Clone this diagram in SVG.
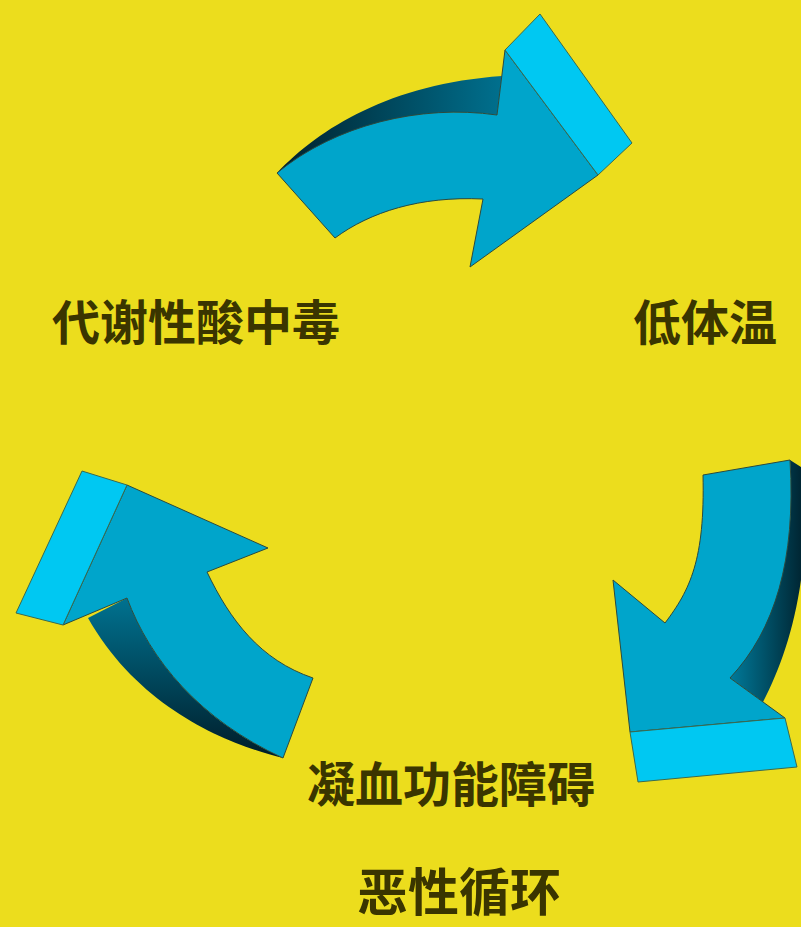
<svg xmlns="http://www.w3.org/2000/svg" width="801" height="927" viewBox="0 0 801 927">
<defs>
<style>
.bg{fill:#ECDD1D}
.face{fill:#00A5CB;stroke:#2a4a40;stroke-width:1}
.cap{fill:#00C8F2;stroke:#3a6a50;stroke-width:1}
.lbl{font-family:"Noto Sans CJK SC","Noto Sans CJK TC",sans-serif;font-size:48px;fill:#3A3500;font-weight:bold}
</style>
<linearGradient id="shTop" x1="0" y1="0" x2="1" y2="0">
<stop offset="0" stop-color="#00202c"/><stop offset="1" stop-color="#00708e"/>
</linearGradient>
<linearGradient id="shRight" x1="0" y1="0" x2="1" y2="0">
<stop offset="0" stop-color="#007a9a"/><stop offset="1" stop-color="#00202c"/>
</linearGradient>
<linearGradient id="shLeft" x1="0" y1="0" x2="0" y2="1">
<stop offset="0" stop-color="#007290"/><stop offset="1" stop-color="#001c28"/>
</linearGradient>
</defs>
<rect class="bg" x="0" y="0" width="801" height="927"/>
<g id="connectors">
<g id="arrow-top">
<path fill="url(#shTop)" d="M277,173 C320,128 390,84 502,76 L497,115 C420,104 340,125 284,172 Z"/>
<path class="face" d="M277,173 C335,125 420,104 497,115 L505,50 L598,175 L470,267 L483,199 C420,196 370,212 335,238 Z"/>
<path class="cap" d="M505,50 L540,14 L632,143 L598,175 Z"/>
</g>
<g id="arrow-right">
<path fill="url(#shRight)" d="M790,460 L806,470 C810,580 790,650 763,702 L730,678 C775,620 796,560 790,460 Z"/>
<path class="face" d="M703,475 L790,460 C796,560 775,630 730,678 L785,718 L630,732 L613,580 L665,623 C690,590 705,560 703,475 Z"/>
<path class="cap" d="M630,732 L785,718 L797,767 L638,782 Z"/>
</g>
<g id="arrow-left">
<path fill="url(#shLeft)" d="M88,618 L127,598 C150,660 200,720 283,758 C230,745 140,710 88,618 Z"/>
<path class="face" d="M127,485 L268,548 L207,572 C230,620 260,660 313,678 L283,758 C200,720 150,660 127,598 L63,625 Z"/>
<path class="cap" d="M82,471 L127,485 L63,625 L16,613 Z"/>
</g>
</g>
<g id="node-acidosis"><text class="lbl" x="52" y="340">代谢性酸中毒</text></g>
<g id="node-hypothermia"><text class="lbl" x="633" y="340">低体温</text></g>
<g id="node-coagulopathy"><text class="lbl" x="307" y="802">凝血功能障碍</text></g>
<g id="node-title"><text class="lbl" x="357" y="911" style="font-size:51px">恶性循环</text></g>
</svg>
